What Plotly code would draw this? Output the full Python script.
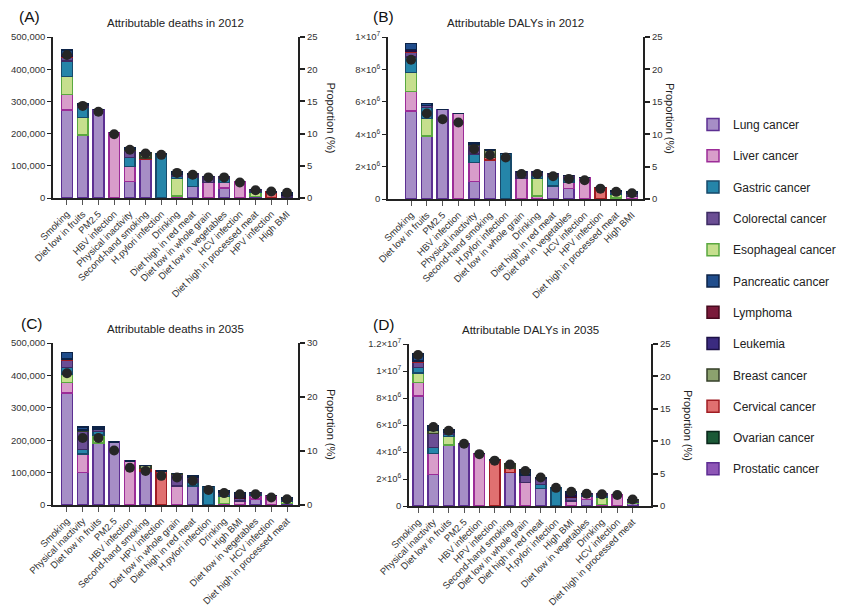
import plotly.graph_objects as go

# ---------------- data ----------------
legend_order = ["Lung cancer", "Liver cancer", "Gastric cancer", "Colorectal cancer",
                "Esophageal cancer", "Pancreatic cancer", "Lymphoma", "Leukemia",
                "Breast cancer", "Cervical cancer", "Ovarian cancer", "Prostatic cancer"]
stack_order = ["Lung cancer", "Liver cancer", "Esophageal cancer", "Gastric cancer",
               "Colorectal cancer", "Cervical cancer", "Lymphoma", "Leukemia",
               "Breast cancer", "Ovarian cancer", "Prostatic cancer", "Pancreatic cancer"]

fills = {"Lung cancer": "#a68ec6", "Liver cancer": "#d89dca", "Gastric cancer": "#2585a9",
         "Colorectal cancer": "#6b4e94", "Esophageal cancer": "#c6df8e", "Pancreatic cancer": "#204d8c",
         "Lymphoma": "#7a1a3a", "Leukemia": "#3b2b80", "Breast cancer": "#8ca26e",
         "Cervical cancer": "#e07070", "Ovarian cancer": "#1b5a37", "Prostatic cancer": "#8e56b6"}
edges = {"Lung cancer": "#5c2f92", "Liver cancer": "#9c2c98", "Gastric cancer": "#174a6b",
         "Colorectal cancer": "#3d2b63", "Esophageal cancer": "#5aa840", "Pancreatic cancer": "#0d2347",
         "Lymphoma": "#46091d", "Leukemia": "#1c1046", "Breast cancer": "#343f28",
         "Cervical cancer": "#a01d23", "Ovarian cancer": "#09261a", "Prostatic cancer": "#5e2d93"}

# (A) Attributable deaths in 2012
cats_a = ["Smoking", "Diet low in fruits", "PM2.5", "HBV infection", "Physical inactivity",
          "Second-hand smoking", "H.pylori infection", "Drinking", "Diet high in red meat",
          "Diet low in whole grain", "Diet low in vegetables", "HCV infection",
          "Diet high in processed meat", "HPV infection", "High BMI"]
deaths_2012 = {
    "Lung cancer":       [273000, 196000, 275000, 0, 52000, 121000, 0, 0, 36000, 0, 31000, 0, 4000, 0, 0],
    "Liver cancer":      [48000, 0, 0, 204000, 46000, 0, 0, 7000, 0, 48000, 17000, 52000, 0, 0, 3000],
    "Esophageal cancer": [57000, 54000, 0, 0, 0, 0, 0, 53000, 0, 0, 0, 0, 13000, 0, 0],
    "Gastric cancer":    [47000, 31000, 0, 0, 28000, 0, 137000, 8000, 28000, 0, 12000, 0, 4000, 0, 0],
    "Colorectal cancer": [13000, 6000, 0, 0, 21000, 0, 0, 6000, 11000, 19000, 7000, 0, 5000, 0, 5000],
    "Cervical cancer":   [2000, 0, 0, 0, 0, 3000, 0, 0, 0, 0, 0, 0, 0, 18000, 0],
    "Lymphoma":          [0, 0, 0, 0, 0, 0, 0, 0, 0, 0, 0, 0, 0, 0, 0],
    "Leukemia":          [5000, 0, 0, 0, 0, 0, 0, 0, 0, 0, 0, 0, 0, 0, 4000],
    "Breast cancer":     [0, 0, 0, 0, 4000, 15000, 0, 0, 0, 0, 0, 0, 0, 0, 0],
    "Ovarian cancer":    [0] * 15,
    "Prostatic cancer":  [0] * 15,
    "Pancreatic cancer": [14000, 5000, 0, 0, 4000, 0, 0, 7000, 0, 0, 0, 0, 0, 0, 3000],
}
prop_a = [22.2, 14.3, 13.4, 9.9, 7.5, 6.9, 6.7, 3.9, 3.6, 3.2, 3.2, 2.4, 1.2, 1.0, 0.8]

# (B) Attributable DALYs in 2012 (millions)
cats_b = ["Smoking", "Diet low in fruits", "PM2.5", "HBV infection", "Physical inactivity",
          "Second-hand smoking", "H.pylori infection", "Diet low in whole grain", "Drinking",
          "Diet high in red meat", "Diet low in vegetables", "HCV infection", "HPV infection",
          "Diet high in processed meat", "High BMI"]
dalys_2012_m = {
    "Lung cancer":       [5.42, 3.88, 5.52, 0, 1.07, 2.40, 0, 0, 0, 0.80, 0.64, 0, 0, 0.07, 0],
    "Liver cancer":      [1.23, 0, 0, 5.28, 1.19, 0, 0, 1.31, 0.18, 0, 0.37, 1.33, 0, 0, 0.14],
    "Esophageal cancer": [1.16, 1.09, 0, 0, 0, 0, 0, 0, 1.09, 0, 0, 0, 0, 0.25, 0],
    "Gastric cancer":    [0.96, 0.68, 0, 0, 0.51, 0, 2.81, 0, 0.20, 0.58, 0.26, 0, 0, 0.07, 0],
    "Colorectal cancer": [0.31, 0.12, 0, 0, 0.56, 0, 0, 0.37, 0.21, 0.16, 0.17, 0, 0, 0.07, 0.21],
    "Cervical cancer":   [0.06, 0, 0, 0, 0, 0.17, 0, 0, 0, 0, 0, 0, 0.72, 0, 0],
    "Lymphoma":          [0, 0, 0, 0, 0, 0, 0, 0, 0, 0, 0, 0, 0, 0, 0.02],
    "Leukemia":          [0.10, 0, 0, 0, 0, 0, 0, 0, 0, 0, 0, 0, 0, 0, 0.04],
    "Breast cancer":     [0, 0, 0, 0, 0.07, 0.45, 0, 0, 0, 0, 0, 0, 0, 0, 0],
    "Ovarian cancer":    [0] * 15,
    "Prostatic cancer":  [0] * 15,
    "Pancreatic cancer": [0.35, 0.12, 0, 0, 0.07, 0, 0, 0, 0, 0, 0, 0, 0, 0.05, 0.04],
}
prop_b = [21.5, 13.2, 12.3, 11.8, 7.7, 6.8, 6.4, 3.85, 3.85, 3.5, 3.1, 2.9, 1.6, 1.1, 0.9]

# (C) Attributable deaths in 2035
cats_c = ["Smoking", "Physical inactivity", "Diet low in fruits", "PM2.5", "HBV infection",
          "Second-hand smoking", "HPV infection", "Diet low in whole grain", "Diet high in red meat",
          "H.pylori infection", "Drinking", "High BMI", "Diet low in vegetables", "HCV infection",
          "Diet high in processed meat"]
deaths_2035 = {
    "Lung cancer":       [346000, 100000, 191000, 194000, 0, 103000, 0, 0, 59000, 0, 0, 0, 19000, 0, 5000],
    "Liver cancer":      [32000, 57000, 0, 0, 136000, 0, 0, 59000, 0, 0, 4000, 12000, 12000, 29000, 0],
    "Esophageal cancer": [26000, 0, 25000, 0, 0, 0, 0, 0, 0, 0, 22000, 0, 0, 0, 8000],
    "Gastric cancer":    [21000, 15000, 11000, 0, 0, 0, 0, 0, 10000, 57000, 8000, 0, 4000, 0, 3000],
    "Colorectal cancer": [22000, 55000, 7000, 0, 0, 0, 0, 37000, 18000, 0, 6000, 10000, 4000, 0, 3000],
    "Cervical cancer":   [3000, 0, 0, 0, 0, 10000, 105000, 0, 0, 0, 0, 0, 0, 0, 0],
    "Lymphoma":          [0, 0, 0, 0, 0, 0, 0, 0, 0, 0, 0, 2000, 0, 0, 0],
    "Leukemia":          [0, 0, 0, 0, 0, 0, 0, 0, 0, 0, 0, 8000, 0, 0, 0],
    "Breast cancer":     [0, 5000, 0, 0, 0, 9000, 0, 2000, 0, 0, 0, 0, 0, 0, 0],
    "Ovarian cancer":    [0] * 15,
    "Prostatic cancer":  [0] * 15,
    "Pancreatic cancer": [20000, 8000, 6000, 0, 0, 0, 0, 0, 4000, 0, 3000, 7000, 0, 0, 2000],
}
prop_c = [24.4, 12.4, 12.4, 10.1, 6.9, 6.3, 5.4, 5.1, 4.5, 2.8, 2.2, 2.0, 2.0, 1.4, 1.05]

# (D) Attributable DALYs in 2035 (millions)
cats_d = ["Smoking", "Physical inactivity", "Diet low in fruits", "PM2.5", "HBV infection",
          "HPV infection", "Second-hand smoking", "Diet low in whole grain", "Diet high in red meat",
          "H.pylori infection", "High BMI", "Diet low in vegetables", "Drinking", "HCV infection",
          "Diet high in processed meat"]
dalys_2035_m = {
    "Lung cancer":       [8.16, 2.33, 4.51, 4.64, 0, 0, 2.48, 0, 1.29, 0, 0, 0.47, 0, 0, 0.17],
    "Liver cancer":      [0.99, 1.56, 0, 0, 3.89, 0, 0, 1.74, 0, 0, 0.37, 0.27, 0.12, 0.84, 0],
    "Esophageal cancer": [0.69, 0, 0.62, 0, 0, 0, 0, 0, 0, 0, 0, 0, 0.50, 0, 0.08],
    "Gastric cancer":    [0.42, 0.45, 0.20, 0, 0, 0, 0, 0, 0.30, 1.34, 0, 0.10, 0.15, 0, 0.05],
    "Colorectal cancer": [0.40, 1.04, 0.17, 0, 0, 0, 0, 0.54, 0.44, 0, 0.30, 0.08, 0.15, 0, 0.10],
    "Cervical cancer":   [0.07, 0, 0, 0, 0, 3.40, 0.35, 0, 0, 0, 0, 0, 0, 0, 0],
    "Lymphoma":          [0, 0, 0, 0, 0, 0, 0, 0, 0, 0, 0.07, 0, 0, 0, 0],
    "Leukemia":          [0, 0, 0, 0, 0, 0, 0, 0, 0, 0, 0.20, 0, 0, 0, 0],
    "Breast cancer":     [0, 0.25, 0, 0, 0, 0, 0.32, 0, 0, 0, 0, 0, 0, 0, 0.07],
    "Ovarian cancer":    [0] * 15,
    "Prostatic cancer":  [0] * 15,
    "Pancreatic cancer": [0.53, 0.30, 0.13, 0, 0, 0, 0, 0.37, 0.08, 0, 0.15, 0, 0, 0, 0],
}
prop_d = [23.3, 12.2, 11.6, 9.6, 8.0, 7.0, 6.4, 5.4, 4.4, 2.8, 2.2, 1.9, 1.8, 1.7, 1.0]

# ---------------- layout helpers ----------------
W, H = 853, 608
OFF = 8  # the page body margin shifts the figure by 8 px
FONT = "Liberation Sans, Arial, sans-serif"


def fx(p):
    return (p - OFF) / W


def fy(p):
    return 1 - (p - OFF) / H


def sci(v):
    if v == 0:
        return "0"
    if v >= 1e7:
        return ("%g" % (v / 1e7)) + "×10<sup>7</sup>"
    return ("%g" % (v / 1e6)) + "×10<sup>6</sup>"


panels = [
    dict(label="(A)", title="Attributable deaths in 2012", cats=cats_a, data=deaths_2012, unit=1,
         prop=prop_a, x0=53, x1=298, yt=37, yb=198, xr=[-0.89, 14.7], yr=500000, ystep=100000,
         pr=25, pstep=5, sci=False, ptx=331, lx=17),
    dict(label="(B)", title="Attributable DALYs in 2012", cats=cats_b, data=dalys_2012_m, unit=1e6,
         prop=prop_b, x0=388, x1=643, yt=37, yb=199, xr=[-1.46, 14.7], yr=1e7, ystep=2e6,
         pr=25, pstep=5, sci=True, ptx=670, lx=371),
    dict(label="(C)", title="Attributable deaths in 2035", cats=cats_c, data=deaths_2035, unit=1,
         prop=prop_c, x0=53, x1=298, yt=343, yb=505, xr=[-0.89, 14.7], yr=500000, ystep=100000,
         pr=30, pstep=10, sci=False, ptx=331, lx=19),
    dict(label="(D)", title="Attributable DALYs in 2035", cats=cats_d, data=dalys_2035_m, unit=1e6,
         prop=prop_d, x0=409, x1=651, yt=344, yb=506, xr=[-0.59, 15.2], yr=1.2e7, ystep=2e6,
         pr=25, pstep=5, sci=True, ptx=688, lx=371),
]

fig = go.Figure()
layout = dict(
    width=W, height=H, margin=dict(l=0, r=0, t=0, b=0, autoexpand=False),
    paper_bgcolor="white", plot_bgcolor="white",
    barmode="stack",
    font=dict(family=FONT, color="#222"),
    showlegend=True,
    legend=dict(x=fx(693), y=fy(110), xanchor="left", yanchor="top",
                traceorder="grouped", tracegroupgap=12.3,
                font=dict(size=12, family=FONT, color="#222"),
                bgcolor="rgba(0,0,0,0)"),
)
annotations = []

for i, p in enumerate(panels):
    n = i + 1
    xa = "x" if n == 1 else "x%d" % n
    ya = "y" if n == 1 else "y%d" % n
    yr_name = "y%d" % (n + 4)
    xpos = list(range(len(p["cats"])))

    for cancer in stack_order:
        vals = [v * p["unit"] for v in p["data"][cancer]]
        fig.add_trace(go.Bar(
            x=xpos, y=vals, name=cancer, xaxis=xa, yaxis=ya, width=0.68,
            marker=dict(color=fills[cancer], line=dict(color=edges[cancer], width=1.5)),
            legendgroup=cancer, legendrank=legend_order.index(cancer) + 1,
            showlegend=(n == 1),
        ))
    fig.add_trace(go.Scatter(
        x=xpos, y=p["prop"], mode="markers", xaxis=xa, yaxis=yr_name,
        marker=dict(color="#262626", size=10), showlegend=False, name="Proportion",
    ))

    xkey = "xaxis" if n == 1 else "xaxis%d" % n
    ykey = "yaxis" if n == 1 else "yaxis%d" % n
    rkey = "yaxis%d" % (n + 4)
    ydom = [fy(p["yb"]), fy(p["yt"])]
    tv = []
    v = 0
    while v <= p["yr"] + 1:
        tv.append(v)
        v += p["ystep"]
    tt = [sci(t) if p["sci"] else f"{int(t):,}" for t in tv]

    layout[xkey] = dict(
        domain=[fx(p["x0"]), fx(p["x1"])], anchor=ya, range=p["xr"], automargin=False,
        tickmode="array", tickvals=xpos, ticktext=p["cats"], tickangle=-45,
        tickfont=dict(size=9.5, color="#333"), showline=True, linecolor="#222", linewidth=1.6,
        ticks="outside", ticklen=5, tickcolor="#555", tickwidth=1, showgrid=False, zeroline=False,
    )
    layout[ykey] = dict(
        domain=ydom, anchor=xa, range=[0, p["yr"]], tickmode="array", tickvals=tv, ticktext=tt,
        automargin=False,
        tickfont=dict(size=9.5, color="#333"), showline=True, linecolor="#222", linewidth=1.6,
        ticks="outside", ticklen=4, tickcolor="#222", showgrid=False, zeroline=False,
    )
    layout[rkey] = dict(
        overlaying=ya, side="right", anchor=xa, range=[0, p["pr"]], dtick=p["pstep"],
        tick0=0, automargin=False, tickfont=dict(size=9.5, color="#333"), showline=True,
        linecolor="#222", linewidth=2, ticks="outside", ticklen=5, tickcolor="#222", tickwidth=1.6,
        showgrid=False, zeroline=False,
    )

    cx = (p["x0"] + p["x1"]) / 2
    annotations.append(dict(text=p["title"], x=fx(cx), y=fy(p["yt"] - 14), xref="paper", yref="paper",
                            xanchor="center", yanchor="middle", showarrow=False,
                            font=dict(size=11.5, color="#222")))
    annotations.append(dict(text=p["label"], x=fx(p["lx"]), y=fy(p["yt"] - 20), xref="paper",
                            yref="paper", xanchor="left", yanchor="middle", showarrow=False,
                            font=dict(size=15.5, color="#111")))
    annotations.append(dict(text="Proportion (%)", x=fx(p["ptx"]), y=fy((p["yt"] + p["yb"]) / 2),
                            xref="paper", yref="paper", xanchor="center", yanchor="middle",
                            showarrow=False, textangle=90, font=dict(size=11, color="#222")))

layout["annotations"] = annotations
fig.update_layout(**layout)
fig.write_html("out.html")
